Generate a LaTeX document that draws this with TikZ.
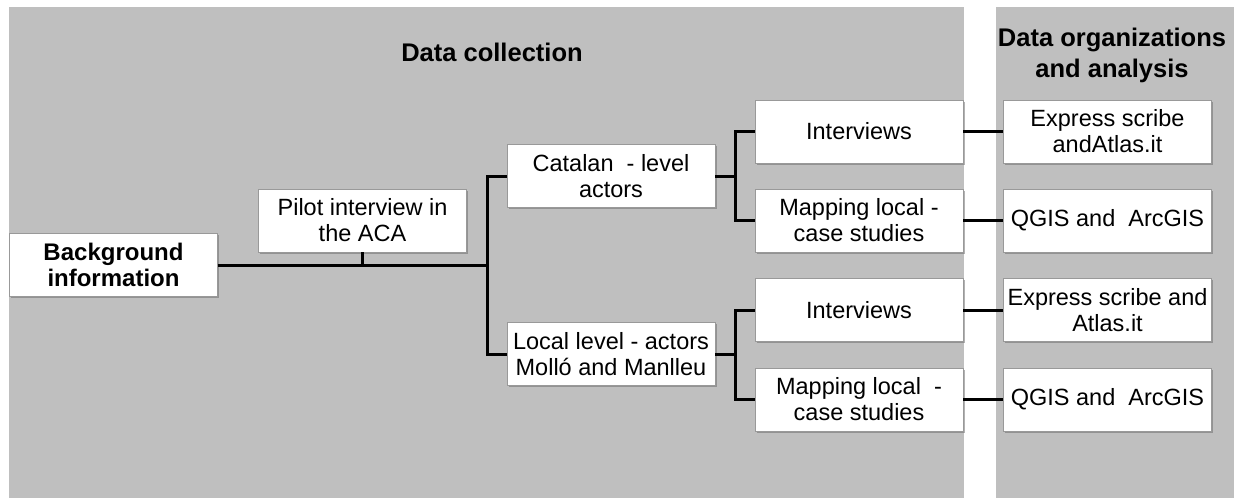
\documentclass[tikz,border=0pt]{standalone}
\usepackage{fontspec}
\setmainfont{Liberation Sans}
\usetikzlibrary{positioning,shadows}

\tikzset{
  panel/.style={fill=black!25, draw=none},
  box/.style={draw=black!40, fill=white, minimum width=208pt, minimum height=63pt,
    align=center, inner sep=2pt, font=\fontsize{23.5}{26}\selectfont,
    drop shadow={shadow xshift=1.5pt, shadow yshift=-1.5pt, fill=black!60, opacity=.5}},
  bbox/.style={box, font=\bfseries\fontsize{24}{26}\selectfont},
  title/.style={align=center, font=\bfseries\fontsize{25.5}{31}\selectfont},
  link/.style={line width=3pt, black},
}

\begin{document}
\begin{tikzpicture}[x=1pt, y=-1pt]
\useasboundingbox (0,0) rectangle (1234,498);
\fill[white] (0,0) rectangle (1234,498);
\fill[panel] (9,7) rectangle (964,498);
\fill[panel] (996,7) rectangle (1234,498);

\node[title] (collect) at (492,52) {Data collection};
\node[title] (analysis) at (1112,55) {Data organizations\\and analysis};

\node[bbox] (bg) at (113.5,265) {Background\\information};
\node[box] (pilot) at (362.5,220.5) {Pilot interview in\\the ACA};
\node[box] (cat) at (611,176) {Catalan\ \ - level\\actors};
\node[box] (loc) at (611,354) {Local level - actors\\Molló and Manlleu};

\node[box] (int1) at (859,131.5) {Interviews};
\node[box] (map1) at (859,220.5) {Mapping local -\\case studies};
\node[box] (int2) at (859,310) {Interviews};
\node[box] (map2) at (859,399.5) {Mapping local\ \ -\\case studies};

\node[box] (exp1) at (1107.5,131.5) {Express scribe\\andAtlas.it};
\node[box] (qgis1) at (1107.5,220.5) {QGIS and\ \ ArcGIS};
\node[box] (exp2) at (1107.5,310) {Express scribe and\\Atlas.it};
\node[box] (qgis2) at (1107.5,399.5) {QGIS and\ \ ArcGIS};

\coordinate (trunk) at (487,265);
\coordinate (fork1) at (735,176);
\coordinate (fork2) at (735,354);

\draw[link] (bg.east) -- (trunk);
\draw[link] (pilot.south) -- (pilot.south |- trunk);
\draw[link] (cat.west) -| (trunk) |- (loc.west);

\draw[link] (cat.east) -- (fork1);
\draw[link] (int1.west) -| (fork1) |- (map1.west);
\draw[link] (loc.east) -- (fork2);
\draw[link] (int2.west) -| (fork2) |- (map2.west);

\draw[link] (int1.east) -- (exp1.west);
\draw[link] (map1.east) -- (qgis1.west);
\draw[link] (int2.east) -- (exp2.west);
\draw[link] (map2.east) -- (qgis2.west);
\end{tikzpicture}
\end{document}
